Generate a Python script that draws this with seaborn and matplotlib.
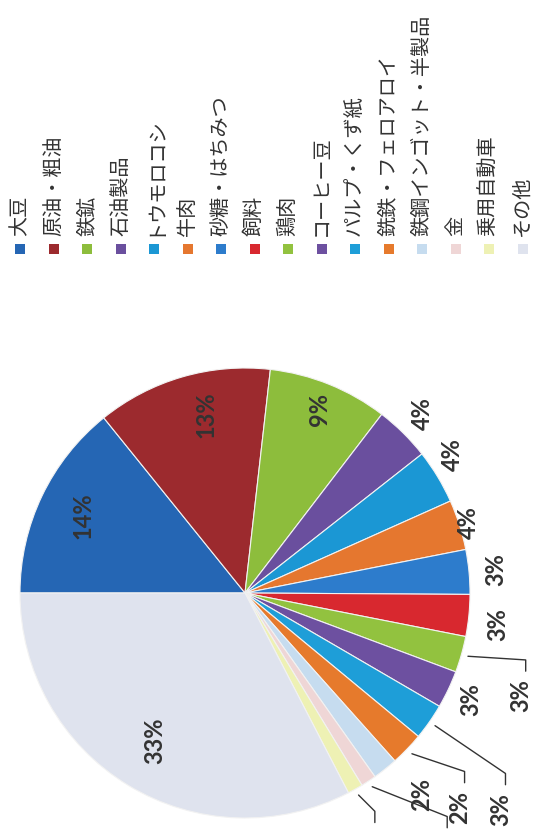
import matplotlib
matplotlib.use("Agg")
import numpy as np
import matplotlib.pyplot as plt
from matplotlib.patches import Rectangle
import seaborn as sns

# 品目別シェア（%）
categories = ['大豆', '原油・粗油', '鉄鉱', '石油製品', 'トウモロコシ', '牛肉',
              '砂糖・はちみつ', '飼料', '鶏肉', 'コーヒー豆', 'パルプ・くず紙',
              '銑鉄・フェロアロイ', '鉄鋼インゴット・半製品', '金', '乗用自動車', 'その他']
shares = [14.2, 12.6, 8.6, 4.0, 3.9, 3.6, 3.2, 3.0, 2.6, 2.7, 2.6, 2.4, 1.8, 1.1, 1.1, 32.6]
slice_colors = ['#2566b4', '#9c2a2e', '#8dbd3c', '#6a4f9e', '#1b97d4', '#e5772f',
                '#2d7ccc', '#d8282f', '#92c23f', '#6d50a0', '#1e9ed8', '#e67a2c',
                '#c6dcef', '#efd6d6', '#eef1b4', '#dfe3ee']

# ラベル位置（半径・角度ずれ）と引き出し線
label_r = [0.80, 0.81, 0.88, 1.12, 1.11, 1.04, 1.12, 1.13, 1.31, 1.11, 1.49, 1.35, 1.19, 1.45, 1.26, 0.77]
label_dt = [0, -3.7, 0, 0, 2.5, 0, 0, -1.3, -4.6, 0, -5.3, -1, 2.8, 4, -3.1, 0]
leader = [False] * 8 + [True, False, True, True, False, True, True, False]

sns.set_theme(style="white")
plt.rcParams['font.family'] = ['Noto Sans CJK JP', 'DejaVu Sans']

W, H = 537, 831
fig = plt.figure(figsize=(W / 100, H / 100), dpi=100)
fig.patch.set_facecolor('white')

cx, cy, R = 245, 593, 225
ax = fig.add_axes([(cx - R) / W, 1 - (cy + R) / H, 2 * R / W, 2 * R / H])
wedges, _ = ax.pie(shares, colors=slice_colors, startangle=180, counterclock=False,
                   radius=1, wedgeprops=dict(edgecolor='#f2f2f2', linewidth=0.8))
ax.set_xlim(-1, 1)
ax.set_ylim(-1, 1)
ax.axis('off')

total = sum(shares)
for w, v, r, dt, lead in zip(wedges, shares, label_r, label_dt, leader):
    mid = (w.theta1 + w.theta2) / 2
    a = np.deg2rad(mid + dt)
    lx, ly = r * np.cos(a), r * np.sin(a)
    ax.text(lx, ly, f"{v / total * 100:.0f}%", rotation=90, ha='center', va='center',
            fontsize=17, family='Lato', fontweight='bold', color='#333333', clip_on=False)
    if lead:
        m0 = np.deg2rad(mid)
        ax.plot([1.03 * np.cos(m0), lx + 0.02, lx + 0.02],
                [1.03 * np.sin(m0), ly + 0.16, ly + 0.11],
                color='#333333', lw=1, clip_on=False)

# 凡例（回転した縦並び）
for i, (name, col) in enumerate(zip(categories, slice_colors)):
    xp = 20 + 33.5 * i
    fig.add_artist(Rectangle(((xp - 5) / W, 1 - 254 / H), 10 / W, 10 / H,
                             transform=fig.transFigure, facecolor=col, edgecolor='none'))
    fig.text(xp / W, 1 - 236 / H, name, rotation=90, ha='center', va='bottom',
             fontsize=14.5, color='#333333')

fig.savefig('out.png', dpi=100)
